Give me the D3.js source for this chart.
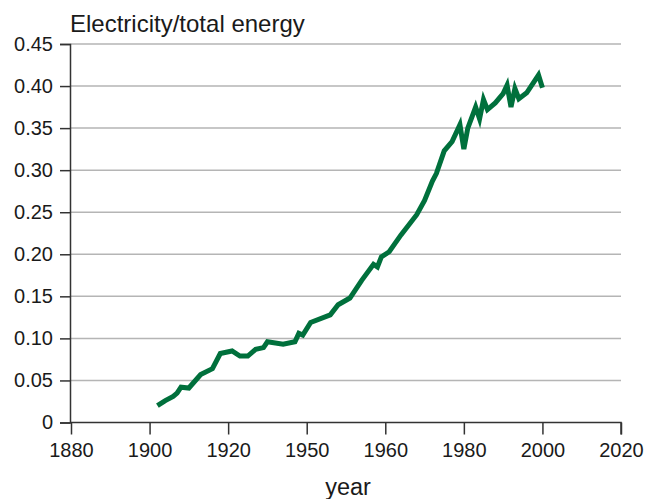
<!DOCTYPE html>
<html>
<head>
<meta charset="utf-8">
<script src="https://cdn.jsdelivr.net/npm/d3@7"></script>
<style>
  html, body { margin: 0; padding: 0; background: #fff; }
  svg { display: block; font-family: "Liberation Sans", Arial, sans-serif; }
</style>
</head>
<body>
<div id="chart"></div>
<script>
var WIDTH = 646
var HEIGHT = 499

// values
var years = [1902, 1904, 1906, 1907, 1908, 1910, 1913, 1916, 1918, 1921, 1923, 1925, 1927, 1929, 1930,
  1934, 1937, 1938, 1939, 1941, 1946, 1948, 1951, 1954, 1957, 1958, 1959, 1961, 1964, 1968,
  1970, 1972, 1973, 1975, 1977, 1979, 1980, 1981, 1983, 1984, 1985, 1986, 1988, 1990, 1991,
  1992, 1993, 1994, 1996, 1999, 2000]
var share = [0.020, 0.026, 0.031, 0.035, 0.042, 0.041, 0.057, 0.064, 0.082, 0.085, 0.079, 0.079, 0.087, 0.089, 0.096,
  0.093, 0.096, 0.106, 0.104, 0.119, 0.128, 0.140, 0.148, 0.169, 0.188, 0.185, 0.197, 0.203, 0.223, 0.247,
  0.264, 0.287, 0.296, 0.323, 0.334, 0.354, 0.325, 0.350, 0.375, 0.361, 0.384, 0.372, 0.380, 0.391, 0.401,
  0.375, 0.397, 0.385, 0.392, 0.413, 0.398]

var xTicks = [1880, 1900, 1920, 1940, 1960, 1980, 2000, 2020]
var xTickLabels = ["1880", "1900", "1920", "1950", "1960", "1980", "2000", "2020"]
var yTicks = [0, 0.05, 0.10, 0.15, 0.20, 0.25, 0.30, 0.35, 0.40, 0.45]

var data = years.map(function(y, i) { return {year: y, value: share[i]} })

var svg = d3.select("#chart").append("svg")
  .attr("width", WIDTH)
  .attr("height", HEIGHT)

var x = d3.scaleLinear().domain([1880, 2020]).range([71, 621])
var y = d3.scaleLinear().domain([0, 0.45]).range([422.5, 44])

// grid
svg.append("g")
  .selectAll("line")
  .data(yTicks.filter(function(d) { return d > 0 }))
  .enter()
  .append("line")
  .attr("x1", 70)
  .attr("x2", 621)
  .attr("y1", function(d) { return y(d) })
  .attr("y2", function(d) { return y(d) })
  .attr("stroke", "#b5b5b5")
  .attr("stroke-width", 1.5)

// y axis
var yAxis = svg.append("g")
  .attr("transform", "translate(70,0)")
  .call(d3.axisLeft(y).tickValues(yTicks).tickSize(10).tickPadding(7)
    .tickFormat(function(d) { return d === 0 ? "0" : d3.format(".2f")(d) }))
yAxis.select(".domain").attr("stroke", "#333").attr("stroke-width", 1.5)
yAxis.selectAll(".tick line").attr("stroke", "#333").attr("stroke-width", 1.5)
yAxis.selectAll("text").attr("font-size", 20).attr("fill", "#1a1a1a")
  .attr("font-family", "Liberation Sans, Arial, sans-serif")

// x axis
var xAxis = svg.append("g")
  .attr("transform", "translate(0,422.5)")
  .call(d3.axisBottom(x).tickValues(xTicks).tickSize(12).tickPadding(8)
    .tickFormat(function(d, i) { return xTickLabels[i] }))
xAxis.select(".domain").attr("stroke", "#333").attr("stroke-width", 1.5)
  .attr("d", "M70,0H621V12")
xAxis.selectAll(".tick line").attr("stroke", "#333").attr("stroke-width", 1.5)
xAxis.selectAll("text").attr("font-size", 20).attr("fill", "#1a1a1a")
  .attr("font-family", "Liberation Sans, Arial, sans-serif")

// line
var line = d3.line()
  .x(function(d) { return x(d.year) })
  .y(function(d) { return y(d.value) })

svg.append("path")
  .datum(data)
  .attr("d", line)
  .attr("fill", "none")
  .attr("stroke", "#00703c")
  .attr("stroke-width", 5)
  .attr("stroke-linejoin", "miter")

// titles
svg.append("text")
  .attr("x", 70)
  .attr("y", 32)
  .attr("font-size", 24)
  .attr("fill", "#1a1a1a")
  .text("Electricity/total energy")

svg.append("text")
  .attr("x", 348)
  .attr("y", 495)
  .attr("text-anchor", "middle")
  .attr("font-size", 23.5)
  .attr("fill", "#1a1a1a")
  .text("year")
</script>
</body>
</html>
